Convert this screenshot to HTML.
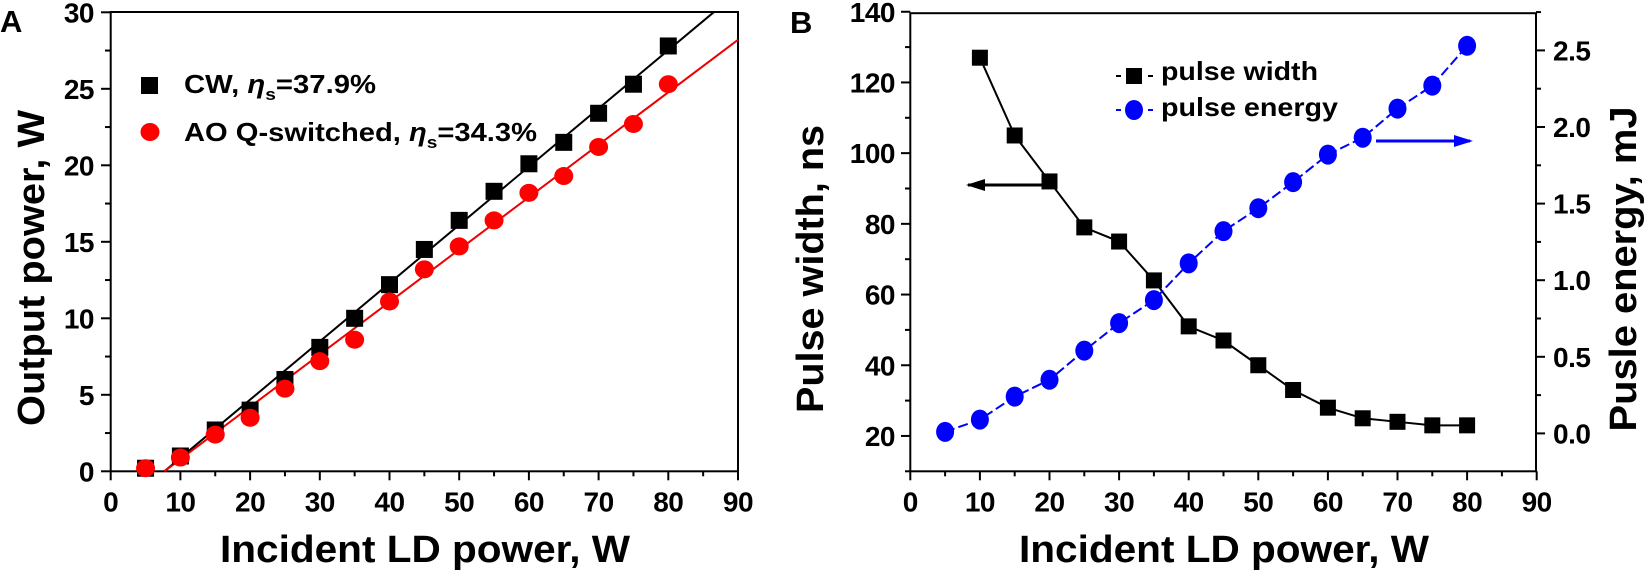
<!DOCTYPE html>
<html><head><meta charset="utf-8"><style>
body{margin:0;background:#fff}
svg{display:block;font-family:"Liberation Sans",sans-serif;font-weight:bold}
</style></head><body>
<svg id="c" width="1646" height="576" xmlns="http://www.w3.org/2000/svg"></svg>
<script>
const xA=[5,10,15,20,25,30,35,40,45,50,55,60,65,70,75,80];
const cwA=[0.2,1.0,2.7,4.0,6.0,8.1,10.0,12.2,14.5,16.4,18.3,20.1,21.5,23.4,25.3,27.8];
const qsA=[0.2,0.9,2.4,3.5,5.4,7.2,8.6,11.1,13.2,14.7,16.4,18.2,19.3,21.2,22.7,25.3];
const fitCW=[7.7,0,86.5,30];
const fitQS=[7.7,0,90,28.2];
const xW=[10,15,20,25,30,35,40,45,50,55,60,65,70,75,80];
const widthB=[127,105,92,79,75,64,51,47,40,33,28,25,24,23,23];
const xE=[5,10,15,20,25,30,35,40,45,50,55,60,65,70,75,80];
const energyB=[0.01,0.09,0.24,0.35,0.54,0.72,0.87,1.11,1.32,1.47,1.64,1.82,1.93,2.12,2.27,2.53];
const xTicks=[0,10,20,30,40,50,60,70,80,90];
const yTicksA=[0,5,10,15,20,25,30];
const yTicksB=[20,40,60,80,100,120,140];
const yTicksE=["0.0","0.5","1.0","1.5","2.0","2.5"];

const S=document.getElementById('c');const NS='http://www.w3.org/2000/svg';
function el(t,a,txt){const e=document.createElementNS(NS,t);for(const k in a)e.setAttribute(k,a[k]);if(txt!==undefined)e.textContent=txt;S.appendChild(e);return e;}

const ax=v=>110.7+v*6.97, ay=v=>471.3-v*15.3;
const bx=v=>910.3+v*6.96, by=v=>471.3-(v-10)*3.535, be=v=>433.4-v*153.2;

function frame(x0,x1,y0,y1,name){
 let r=el('rect',{x:x0,y:y0,width:x1-x0,height:y1-y0,fill:'none',stroke:'#000','stroke-width':2});
 
}
function xAxis(sx,y,name){
 xTicks.forEach((t,i)=>{
  el('line',{x1:sx(t),x2:sx(t),y1:y,y2:y+9,stroke:'#000','stroke-width':2});
  if(t<90)el('line',{x1:sx(t+5),x2:sx(t+5),y1:y,y2:y+5,stroke:'#000','stroke-width':2});
  let e=el('text',{x:sx(t),y:y+40,'text-anchor':'middle','font-size':28,'letter-spacing':-0.5},t);
  
 });
}
frame(110.7,738,12,471.3,'plot-area-a');
xAxis(ax,471.3,'x-axis-a');
yTicksA.forEach(t=>{
 el('line',{x1:110.7,x2:101,y1:ay(t),y2:ay(t),stroke:'#000','stroke-width':2});
 if(t<30)el('line',{x1:110.7,x2:105,y1:ay(t+2.5),y2:ay(t+2.5),stroke:'#000','stroke-width':2});
 let e=el('text',{x:94,y:ay(t)+10,'text-anchor':'end','font-size':28,'letter-spacing':-0.5},t);
 
});
let f1=el('line',{x1:ax(fitCW[0]),y1:ay(fitCW[1]),x2:ax(fitCW[2]),y2:ay(fitCW[3]),stroke:'#000','stroke-width':2});

let f2=el('line',{x1:ax(fitQS[0]),y1:ay(fitQS[1]),x2:ax(fitQS[2]),y2:ay(fitQS[3]),stroke:'#e00','stroke-width':2});

xA.forEach((x,i)=>{
 let s=el('rect',{x:ax(x)-8.5,y:ay(cwA[i])-8.5,width:17,height:17,fill:'#000'});
 
});
xA.forEach((x,i)=>{
 let c=el('ellipse',{cx:ax(x),cy:ay(qsA[i]),rx:9.5,ry:9,fill:'#f00'});
 
});
el('rect',{x:141,y:77,width:17,height:17,fill:'#000'});
el('ellipse',{cx:150,cy:132,rx:9.5,ry:9,fill:'#f00'});
S.insertAdjacentHTML('beforeend','<text x="184" y="93" font-size="26" textLength="192" lengthAdjust="spacingAndGlyphs">CW, <tspan font-style="italic">η</tspan><tspan font-size="17" dy="7">s</tspan><tspan dy="-7">=37.9%</tspan></text>');
S.insertAdjacentHTML('beforeend','<text x="184" y="141" font-size="26" textLength="353" lengthAdjust="spacingAndGlyphs">AO Q-switched, <tspan font-style="italic">η</tspan><tspan font-size="17" dy="7">s</tspan><tspan dy="-7">=34.3%</tspan></text>');
S.insertAdjacentHTML('beforeend','<text x="0" y="32" font-size="31">A</text>');
S.insertAdjacentHTML('beforeend','<text transform="translate(44,268) rotate(-90)" text-anchor="middle" font-size="38" textLength="316" lengthAdjust="spacingAndGlyphs">Output power, W</text>');
S.insertAdjacentHTML('beforeend','<text x="425" y="562" text-anchor="middle" font-size="38" textLength="410" lengthAdjust="spacingAndGlyphs">Incident LD power, W</text>');

frame(910.3,1536,13.2,471.3,'plot-area-b');
xAxis(bx,471.3,'x-axis-b');
yTicksB.forEach(t=>{
 el('line',{x1:910.3,x2:901,y1:by(t),y2:by(t),stroke:'#000','stroke-width':2});
 el('line',{x1:910.3,x2:905,y1:by(t-10),y2:by(t-10),stroke:'#000','stroke-width':2});
 let e=el('text',{x:895,y:by(t)+10,'text-anchor':'end','font-size':28,'letter-spacing':-0.5},t);
 
});
yTicksE.forEach(t=>{
 const v=parseFloat(t);
 el('line',{x1:1536,x2:1545,y1:be(v),y2:be(v),stroke:'#000','stroke-width':2});
 el('line',{x1:1536,x2:1541,y1:be(v+0.25),y2:be(v+0.25),stroke:'#000','stroke-width':2});
 let e=el('text',{x:1553,y:be(v)+10,'font-size':28,'letter-spacing':-0.5},t);
 
});
let pl=el('polyline',{points:xW.map((x,i)=>bx(x)+','+by(widthB[i])).join(' '),fill:'none',stroke:'#000','stroke-width':2});

let pe=el('polyline',{points:xE.map((x,i)=>bx(x)+','+be(energyB[i])).join(' '),fill:'none',stroke:'#00f','stroke-width':2,'stroke-dasharray':'10 4'});

xE.forEach((x,i)=>{
 let c=el('ellipse',{cx:bx(x),cy:be(energyB[i]),rx:9,ry:10,fill:'#00f'});
 
});
xW.forEach((x,i)=>{
 let s=el('rect',{x:bx(x)-8,y:by(widthB[i])-8,width:16,height:16,fill:'#000'});
 
});
S.insertAdjacentHTML('beforeend','<g><line x1="968" y1="185" x2="1050" y2="185" stroke="#000" stroke-width="3"/><polygon points="966,185 985,179 985,191" fill="#000"/></g>');
S.insertAdjacentHTML('beforeend','<g><line x1="1376" y1="141" x2="1470" y2="141" stroke="#00f" stroke-width="3"/><polygon points="1473,141 1454,135 1454,147" fill="#00f"/></g>');
S.insertAdjacentHTML('beforeend','<g><line x1="1116" y1="76" x2="1153" y2="76" stroke="#000" stroke-width="2" stroke-dasharray="5 27"/><line x1="1148" y1="76" x2="1153" y2="76" stroke="#000" stroke-width="2"/><rect x="1126" y="68" width="16" height="16" fill="#000"/><text x="1161" y="80" font-size="26" textLength="157" lengthAdjust="spacingAndGlyphs">pulse width</text><line x1="1116" y1="110" x2="1121" y2="110" stroke="#00f" stroke-width="2"/><line x1="1148" y1="110" x2="1153" y2="110" stroke="#00f" stroke-width="2"/><ellipse cx="1134" cy="110" rx="9" ry="10" fill="#00f"/><text x="1161" y="116" font-size="26" textLength="177" lengthAdjust="spacingAndGlyphs">pulse energy</text></g>');
S.insertAdjacentHTML('beforeend','<text x="790" y="33" font-size="31">B</text>');
S.insertAdjacentHTML('beforeend','<text transform="translate(823,269) rotate(-90)" text-anchor="middle" font-size="38" textLength="288" lengthAdjust="spacingAndGlyphs">Pulse width, ns</text>');
S.insertAdjacentHTML('beforeend','<text transform="translate(1636,269) rotate(-90)" text-anchor="middle" font-size="38" textLength="325" lengthAdjust="spacingAndGlyphs">Pusle energy, mJ</text>');
S.insertAdjacentHTML('beforeend','<text x="1224" y="562" text-anchor="middle" font-size="38" textLength="410" lengthAdjust="spacingAndGlyphs">Incident LD power, W</text>');
</script>
</body></html>
